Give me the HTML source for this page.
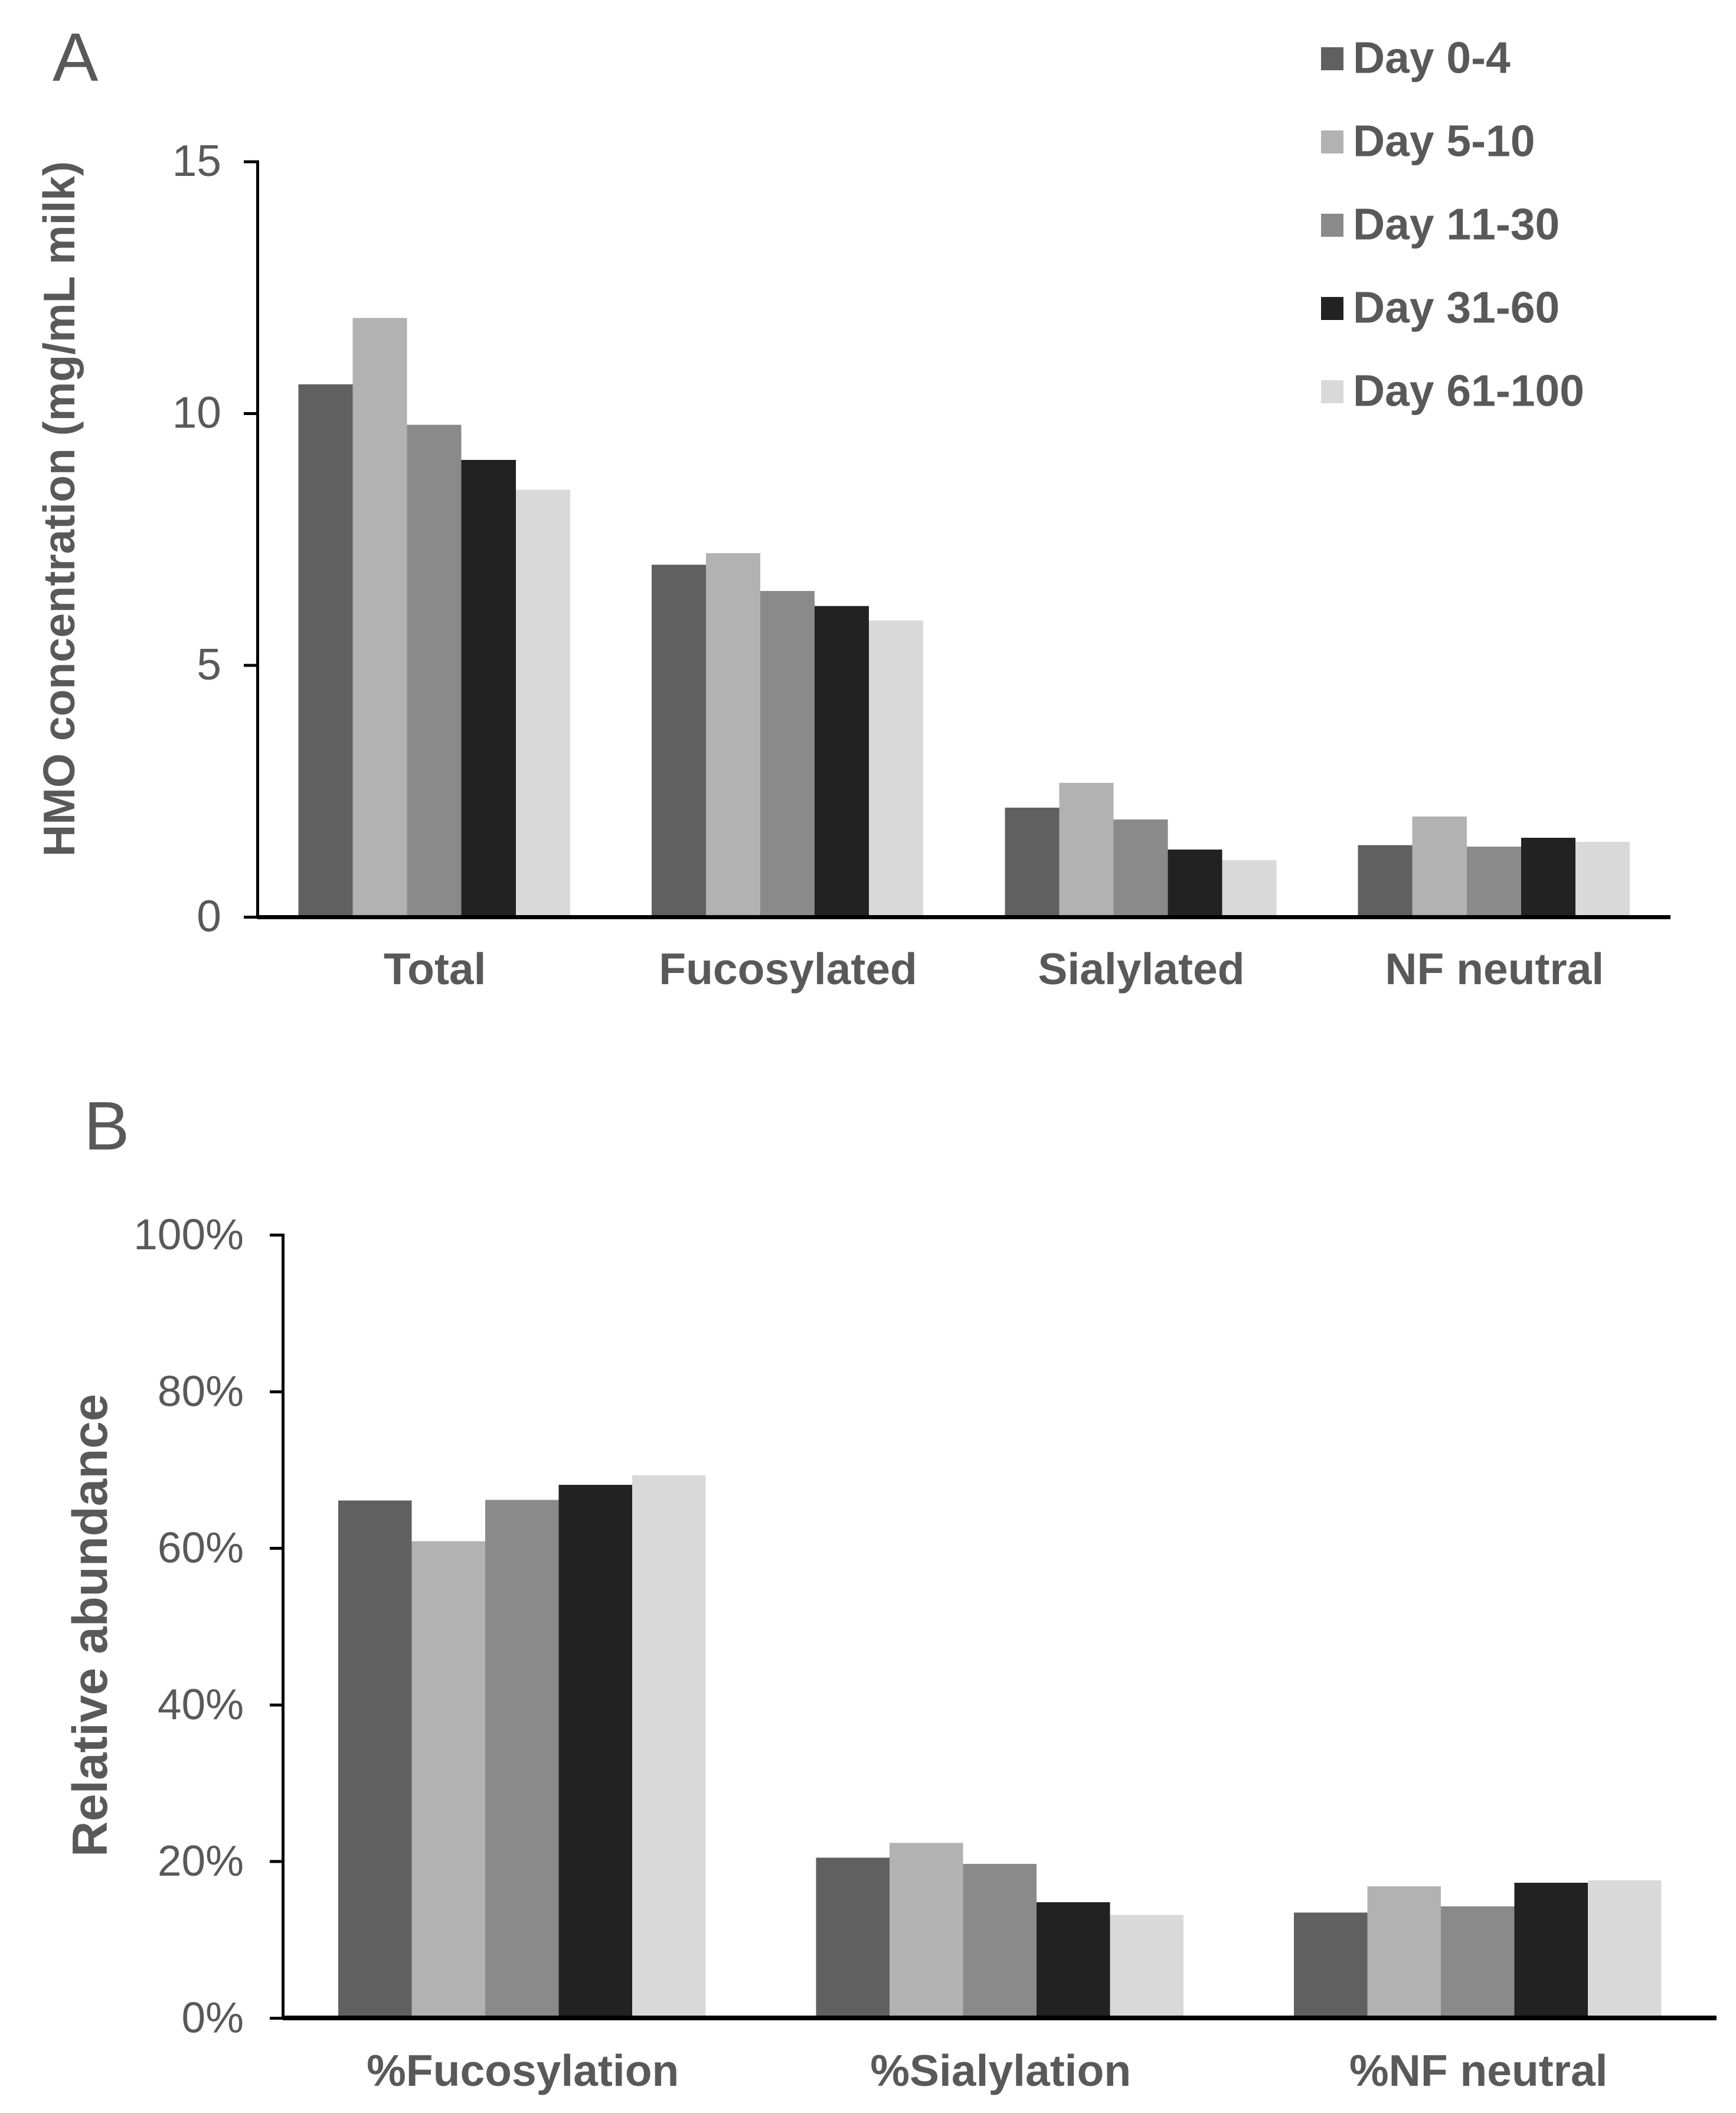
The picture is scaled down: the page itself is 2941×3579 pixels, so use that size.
<!DOCTYPE html>
<html lang="en">
<head>
<meta charset="utf-8">
<title>HMO concentration and relative abundance</title>
<style>
html,body{margin:0;padding:0;background:#fff;}
svg{display:block;}
text{font-family:"Liberation Sans",Arial,sans-serif;fill:#595959;}
#legend text{font-kerning:none;}
</style>
</head>
<body>
<svg id="figure" xmlns="http://www.w3.org/2000/svg" width="2941" height="3579" viewBox="0 0 2941 3579">
  <rect x="0" y="0" width="2941" height="3579" fill="#ffffff"/>
  <text x="89" y="137" font-size="116">A</text>
  <text x="142" y="1947" font-size="116">B</text>
  <text transform="translate(126 862) rotate(-90)" text-anchor="middle" font-size="75" font-weight="700">HMO concentration (mg/mL milk)</text>
  <text transform="translate(181 2753) rotate(-90)" text-anchor="middle" font-size="83.5" font-weight="700">Relative abundance</text>
  <g id="panel-a"></g>
  <g id="panel-b"></g>
  <g id="legend"></g>
</svg>
<script>
// Series names and fills
const seriesNames = ['Day 0-4', 'Day 5-10', 'Day 11-30', 'Day 31-60', 'Day 61-100'];
const seriesFills = ['#606060', '#b2b2b2', '#8a8a8a', '#222222', '#d9d9d9'];

// Panel A data (mg/mL milk)
const categoriesA = ['Total', 'Fucosylated', 'Sialylated', 'NF neutral'];
const day0to4A = [10.58, 7.0, 2.175, 1.43];
const day5to10A = [11.90, 7.23, 2.667, 2.0];
const day11to30A = [9.78, 6.48, 1.94, 1.40];
const day31to60A = [9.08, 6.18, 1.342, 1.577];
const day61to100A = [8.49, 5.89, 1.131, 1.495];
const ticksA = [0, 5, 10, 15];
const tickLabelsA = ['0', '5', '10', '15'];

// Panel B data (% relative abundance)
const categoriesB = ['%Fucosylation', '%Sialylation', '%NF neutral'];
const day0to4B = [66.1, 20.5, 13.5];
const day5to10B = [60.9, 22.4, 16.85];
const day11to30B = [66.2, 19.7, 14.3];
const day31to60B = [68.1, 14.8, 17.3];
const day61to100B = [69.3, 13.2, 17.6];
const ticksB = [0, 20, 40, 60, 80, 100];
const tickLabelsB = ['0%', '20%', '40%', '60%', '80%', '100%'];

const seriesA = [day0to4A, day5to10A, day11to30A, day31to60A, day61to100A];
const seriesB = [day0to4B, day5to10B, day11to30B, day31to60B, day61to100B];

const SVGNS = 'http://www.w3.org/2000/svg';

function makeRect(parent, x, y, w, h, fill) {
  const r = document.createElementNS(SVGNS, 'rect');
  r.setAttribute('x', x);
  r.setAttribute('y', y);
  r.setAttribute('width', w);
  r.setAttribute('height', h);
  r.setAttribute('fill', fill);
  r.setAttribute('shape-rendering', 'crispEdges');
  parent.appendChild(r);
  return r;
}

function makeText(parent, x, y, size, weight, anchor, str) {
  const t = document.createElementNS(SVGNS, 'text');
  t.setAttribute('x', x);
  t.setAttribute('y', y);
  t.setAttribute('font-size', size);
  t.setAttribute('font-weight', weight);
  t.setAttribute('text-anchor', anchor);
  t.textContent = str;
  parent.appendChild(t);
  return t;
}

function drawPanel(cfg) {
  const g = document.getElementById(cfg.id);
  const yScale = v => cfg.yZero - (v - cfg.yMin) / (cfg.yMax - cfg.yMin) * (cfg.yZero - cfg.yTop);
  const pitch = (cfg.xRight - cfg.xLeft) / cfg.categories.length;
  const barW = pitch / 6.5;
  const xBar = (c, s) => cfg.xLeft + pitch * (c + 0.5) - barW * 2.5 + barW * s;

  cfg.series.forEach((vals, s) => {
    vals.forEach((v, c) => {
      const bar = makeRect(g, xBar(c, s), yScale(v), barW, cfg.yZero - yScale(v), seriesFills[s]);
      
      
    });
  });

  cfg.ticks.forEach((tv, i) => {
    const y = yScale(tv);
    const tick = makeRect(g, cfg.axisX - cfg.tickLen, y - 2.5, cfg.tickLen + cfg.axisW, 5, '#000000');
    
    
    const label = makeText(g, cfg.labelRight, y + 24, cfg.tickFont, 400, 'end', cfg.tickLabels[i]);
    
    
  });

  const yAxis = makeRect(g, cfg.axisX, yScale(cfg.ticks[cfg.ticks.length - 1]) - 2.5, cfg.axisW, cfg.yZero - yScale(cfg.ticks[cfg.ticks.length - 1]) + 5, '#000000');
  
  

  const xAxis = makeRect(g, cfg.axisX + 2, cfg.xAxisTop, cfg.xRight - cfg.axisX - 2, cfg.xAxisH, '#000000');
  
  

  cfg.categories.forEach((name, c) => {
    const label = makeText(g, cfg.xLeft + pitch * (c + 0.5) + cfg.catShift, cfg.catBaseline, 75, 700, 'middle', name);
    
    
  });
}

drawPanel({
  id: 'panel-a', categories: categoriesA, series: seriesA, ticks: ticksA, tickLabels: tickLabelsA,
  yMin: 0, yMax: 15, yZero: 1553.5, yTop: 274,
  xLeft: 436.5, xRight: 2830, axisX: 434, axisW: 5, tickLen: 21,
  xAxisTop: 1550, xAxisH: 7, labelRight: 375, tickFont: 75, catBaseline: 1667, catShift: 1
});

drawPanel({
  id: 'panel-b', categories: categoriesB, series: seriesB, ticks: ticksB, tickLabels: tickLabelsB,
  yMin: 0, yMax: 100, yZero: 3418.5, yTop: 2092,
  xLeft: 479.5, xRight: 2908, axisX: 477, axisW: 5, tickLen: 20,
  xAxisTop: 3414, xAxisH: 8, labelRight: 413, tickFont: 73, catBaseline: 3533, catShift: 1.5
});

const legendGroup = document.getElementById('legend');
seriesNames.forEach((name, i) => {
  const swatch = makeRect(legendGroup, 2238, 80 + 141 * i, 38, 39, seriesFills[i]);
  
  
  const entry = makeText(legendGroup, 2292, 123.5 + 141 * i, 75, 700, 'start', name);
  
  
});
</script>
</body>
</html>
